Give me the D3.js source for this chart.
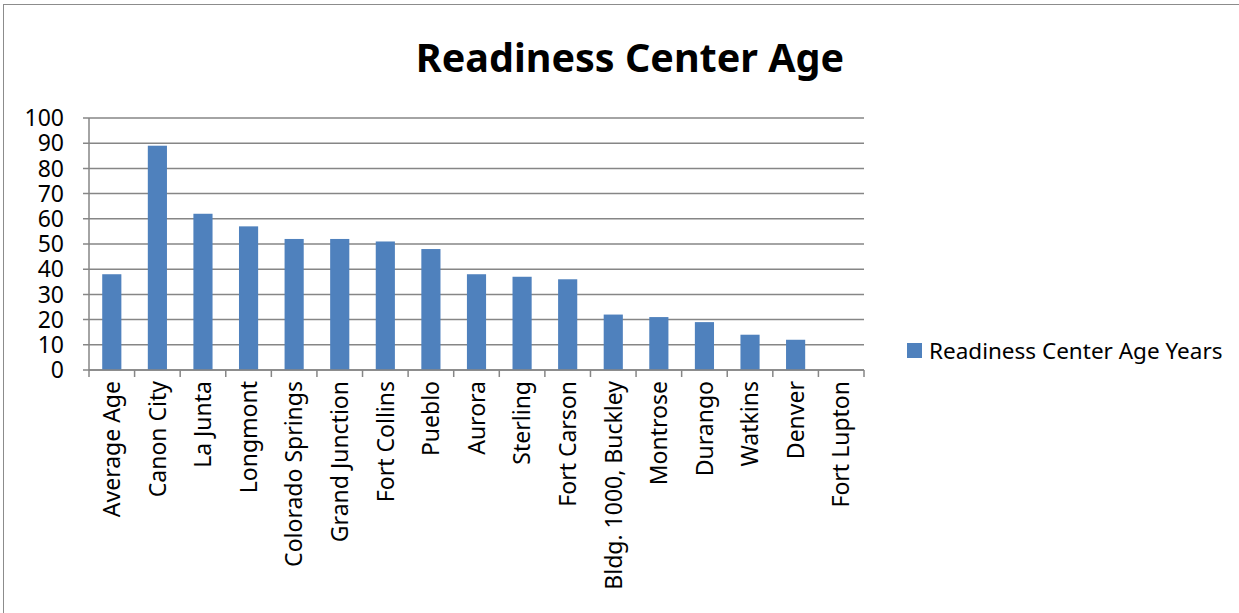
<script src="https://d3js.org/d3.v7.min.js"></script>
<style>
  body{ margin:0; background:white; }
  text{ font-family: "Noto Sans", sans-serif; fill:#000; }
</style>
<body>
<script>
    var svgWidth = 1239;
    var svgHeight = 613;

    var categories = ["Average Age","Canon City","La Junta","Longmont","Colorado Springs","Grand Junction","Fort Collins","Pueblo","Aurora","Sterling","Fort Carson","Bldg. 1000, Buckley","Montrose","Durango","Watkins","Denver","Fort Lupton"];
    var ages = [38, 89, 62, 57, 52, 52, 51, 48, 38, 37, 36, 22, 21, 19, 14, 12, null];
    var yTicks = [0,10,20,30,40,50,60,70,80,90,100];
    var seriesName = "Readiness Center Age Years";

    var barColor = "#4F81BD";
    var gridColor = "#868686";

    var plotLeft = 89, plotRight = 864, plotTop = 118, plotBottom = 370;

    var svg = d3.select("body")
        .append("svg")
        .attr("width", svgWidth)
        .attr("height", svgHeight);

    // chart border
    svg.append("rect")
        .attr("x", 3.5).attr("y", 4.5)
        .attr("width", 1240).attr("height", 620)
        .attr("fill", "none")
        .attr("stroke", "#8c8c8c")
        .attr("stroke-width", 1);

    var x = d3.scaleBand().domain(categories).range([plotLeft, plotRight]).paddingInner(0.58).paddingOuter(0.29);
    var y = d3.scaleLinear().domain([0, 100]).range([plotBottom, plotTop]);

    // gridlines
    svg.selectAll(".grid")
        .data(yTicks)
        .enter().append("line")
        .attr("x1", plotLeft - 6).attr("x2", plotRight)
        .attr("y1", d => y(d)).attr("y2", d => y(d))
        .attr("stroke", gridColor)
        .attr("stroke-width", 1.5);

    // y axis line
    svg.append("line")
        .attr("x1", plotLeft).attr("x2", plotLeft)
        .attr("y1", plotTop).attr("y2", plotBottom)
        .attr("stroke", gridColor).attr("stroke-width", 1.5);

    // y labels
    svg.selectAll(".ylab")
        .data(yTicks)
        .enter().append("text")
        .attr("x", 64)
        .attr("y", d => y(d))
        .attr("dy", "0.36em")
        .attr("text-anchor", "end")
        .style("font-size", "23px")
        .text(d => d);

    // bars
    svg.selectAll(".bar")
        .data(categories.map((c, i) => ({c: c, v: ages[i]})).filter(d => d.v != null))
        .enter().append("rect")
        .attr("x", d => x(d.c))
        .attr("width", x.bandwidth())
        .attr("y", d => y(d.v))
        .attr("height", d => y(0) - y(d.v))
        .attr("fill", barColor);

    // x axis with ticks between categories
    var step = (plotRight - plotLeft) / categories.length;
    svg.append("line")
        .attr("x1", plotLeft).attr("x2", plotRight)
        .attr("y1", plotBottom).attr("y2", plotBottom)
        .attr("stroke", gridColor).attr("stroke-width", 1.5);
    svg.selectAll(".xtick")
        .data(d3.range(categories.length + 1))
        .enter().append("line")
        .attr("x1", i => plotLeft + i * step).attr("x2", i => plotLeft + i * step)
        .attr("y1", plotBottom).attr("y2", plotBottom + 7)
        .attr("stroke", gridColor).attr("stroke-width", 1.5);

    // x labels rotated
    svg.selectAll(".xlab")
        .data(categories)
        .enter().append("text")
        .attr("transform", d => "translate(" + (x(d) + x.bandwidth() / 2) + "," + (plotBottom + 11) + ") rotate(-90)")
        .attr("text-anchor", "end")
        .attr("dy", "0.36em")
        .style("font-size", "23px")
        .text(d => d);

    // title
    svg.append("text")
        .attr("x", 630).attr("y", 72)
        .attr("text-anchor", "middle")
        .style("font-size", "39.5px")
        .style("font-weight", "bold")
        .text("Readiness Center Age");

    // legend
    svg.append("rect")
        .attr("x", 907).attr("y", 343)
        .attr("width", 15).attr("height", 15)
        .attr("fill", barColor);
    svg.append("text")
        .attr("x", 929).attr("y", 351)
        .attr("dy", "0.36em")
        .style("font-size", "22.5px")
        .text(seriesName);
</script>
</body>
